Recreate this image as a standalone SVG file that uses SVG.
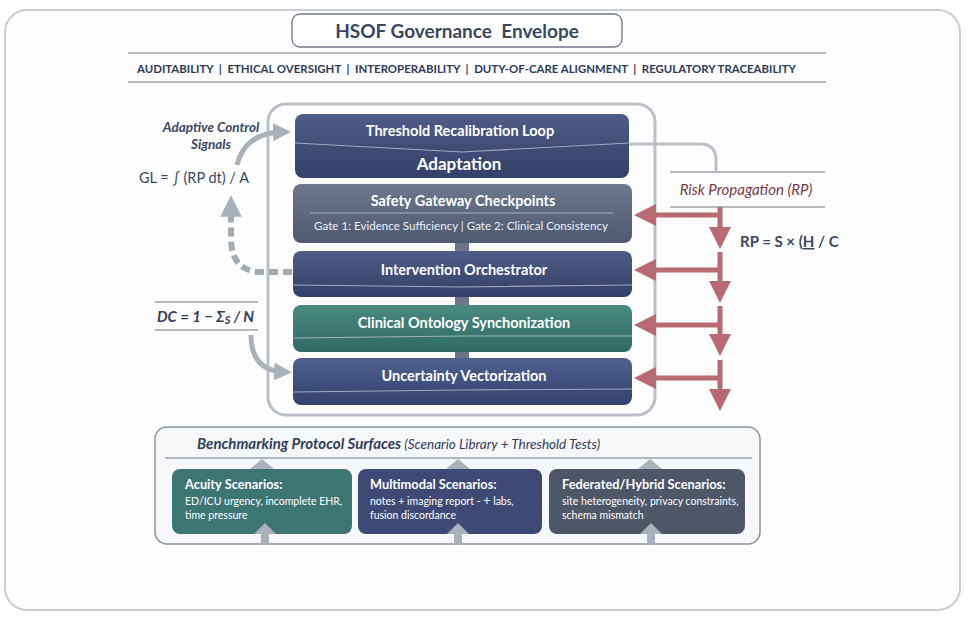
<svg xmlns="http://www.w3.org/2000/svg" width="975" height="619" viewBox="0 0 975 619">
<defs>
<style>
text{font-family:Lato,"Open Sans","Liberation Sans",sans-serif}
.w{fill:#fff;font-weight:bold;text-anchor:middle}
.div{stroke:#b8c0d0;stroke-width:1.2;fill:none;opacity:.8}
.red{stroke:#b86a72;stroke-width:5;fill:none}
.gry{stroke:#a9b1bb;stroke-width:5;fill:none}
.hl{stroke:#9aa2ad;stroke-width:1.3}
.card{font-size:10.5px;fill:#fff}
.ct{font-size:12.8px;font-weight:bold;fill:#fff}
</style>
<linearGradient id="gN" x1="0" y1="0" x2="0" y2="1"><stop offset="0" stop-color="#4f5c86"/><stop offset="1" stop-color="#33406a"/></linearGradient>
<linearGradient id="gG" x1="0" y1="0" x2="0" y2="1"><stop offset="0" stop-color="#6d788e"/><stop offset="1" stop-color="#4e5972"/></linearGradient>
<linearGradient id="gT" x1="0" y1="0" x2="0" y2="1"><stop offset="0" stop-color="#4a8a7f"/><stop offset="1" stop-color="#2f6a62"/></linearGradient>
<linearGradient id="gU" x1="0" y1="0" x2="0" y2="1"><stop offset="0" stop-color="#4f6190"/><stop offset="1" stop-color="#33426c"/></linearGradient>
<marker id="ra" viewBox="0 0 10 10" refX="5" refY="5" markerWidth="4.4" markerHeight="4.4" orient="auto"><path d="M0,0 L10,5 L0,10 z" fill="#b86a72"/></marker>
<marker id="ga" viewBox="0 0 10 10" refX="5" refY="5" markerWidth="3.6" markerHeight="3.6" orient="auto"><path d="M0,0 L10,5 L0,10 z" fill="#a9b1bb"/></marker>
</defs>
<rect width="975" height="619" fill="#fff"/>
<rect x="5" y="10" width="955" height="600" rx="22" fill="#fdfdfe" stroke="#c9ced5" stroke-width="2"/>

<g id="title">
<rect x="292" y="14" width="330" height="33" rx="8" fill="#fff" stroke="#6d7689" stroke-width="1.3"/>
<text x="457" y="38" text-anchor="middle" font-size="19" font-weight="bold" fill="#3a4660" xml:space="preserve">HSOF Governance  Envelope</text>
</g>
<g id="principles">
<line x1="128" y1="53" x2="826" y2="53" class="hl"/>
<line x1="128" y1="82" x2="826" y2="82" class="hl"/>
<text x="137" y="73" font-size="11.5" font-weight="bold" fill="#2f3b55" textLength="659" lengthAdjust="spacingAndGlyphs" xml:space="preserve">AUDITABILITY  |  ETHICAL OVERSIGHT  |  INTEROPERABILITY  |  DUTY-OF-CARE ALIGNMENT  |  REGULATORY TRACEABILITY</text>
</g>

<g id="stack-frame">
<rect x="268" y="104" width="387" height="311" rx="18" fill="none" stroke="#b9c0c8" stroke-width="3"/>
</g>

<g id="benchmark">
<rect x="155" y="427" width="605" height="117" rx="12" fill="#f6f7f9" stroke="#8a93a0" stroke-width="1.5"/>
<line x1="165" y1="458" x2="752" y2="458" class="hl"/>
<text x="197" y="449" font-size="13.5" fill="#323d58" font-style="italic"><tspan font-weight="bold" font-size="15">Benchmarking Protocol Surfaces</tspan> (Scenario Library + Threshold Tests)</text>
</g>

<g id="n-recalibration">
<rect x="295" y="114" width="334" height="64" rx="8" fill="url(#gN)"/>
<path class="div" d="M295,143 L462,152 L629,143"/>
<text x="460" y="136" class="w" font-size="14.5">Threshold Recalibration Loop</text>
<text x="459" y="170" class="w" font-size="17">Adaptation</text>
</g>
<g id="n-safety">
<rect x="293" y="184" width="339" height="59" rx="8" fill="url(#gG)"/>
<line x1="310" y1="213" x2="613" y2="213" class="div"/>
<text x="463" y="206" class="w" font-size="14.5">Safety Gateway Checkpoints</text>
<text x="461" y="230" text-anchor="middle" font-size="11.6" fill="#eef0f4">Gate 1: Evidence Sufficiency | Gate 2: Clinical Consistency</text>
</g>
<g id="n-intervention">
<rect x="293" y="251" width="339" height="46" rx="8" fill="url(#gN)"/>
<path class="div" d="M293,285 L462,287 L632,285"/>
<text x="464" y="275" class="w" font-size="14.5">Intervention Orchestrator</text>
</g>
<g id="n-ontology">
<rect x="293" y="305" width="339" height="47" rx="8" fill="url(#gT)"/>
<path class="div" d="M293,338 L462,336 L632,336"/>
<text x="464" y="328" class="w" font-size="14.5" fill="#eef5f2">Clinical Ontology Synchonization</text>
</g>
<g id="n-uncertainty">
<rect x="293" y="358" width="339" height="47" rx="8" fill="url(#gU)"/>
<path class="div" d="M293,392 L462,390 L632,389"/>
<text x="464" y="381" class="w" font-size="14.5">Uncertainty Vectorization</text>
</g>

<g id="risk-label">
<line x1="670" y1="172" x2="825" y2="172" class="hl"/>
<line x1="670" y1="207" x2="825" y2="207" class="hl"/>
<text x="746" y="195" text-anchor="middle" font-size="15" font-style="italic" fill="#7a3a44">Risk Propagation (RP)</text>
<text x="740" y="247" font-size="15" font-weight="bold" fill="#3a4660">RP = S × (<tspan text-decoration="underline">H</tspan> / C</text>
</g>

<g id="adaptive-label">
<text x="211" y="132" text-anchor="middle" font-size="13.5" font-style="italic" font-weight="bold" fill="#3a4660">Adaptive Control</text>
<text x="211" y="149" text-anchor="middle" font-size="13.5" font-style="italic" font-weight="bold" fill="#3a4660">Signals</text>
<text x="139" y="183" font-size="14.5" fill="#3a4660">GL = ∫ (RP dt) / A</text>
</g>

<g id="dc-label">
<line x1="155" y1="302" x2="258" y2="302" class="hl"/>
<line x1="155" y1="330" x2="258" y2="330" class="hl"/>
<text x="157" y="322" font-size="15" font-style="italic" font-weight="bold" fill="#323d58">DC = 1 − Σ<tspan font-size="11" dy="2">S</tspan><tspan dy="-2"> / N</tspan></text>
</g>

<g id="c-acuity">
<rect x="172" y="469" width="180" height="65" rx="8" fill="#3d7573"/>
<text x="185" y="489" class="ct">Acuity Scenarios:</text>
<text x="185" y="505" class="card">ED/ICU urgency, incomplete EHR,</text>
<text x="185" y="519" class="card">time pressure</text>
</g>
<g id="c-multimodal">
<rect x="358" y="469" width="184" height="65" rx="8" fill="#3e4a76"/>
<text x="370" y="489" class="ct">Multimodal Scenarios:</text>
<text x="370" y="505" class="card">notes + imaging report - <tspan font-size="12.5">+</tspan> labs,</text>
<text x="370" y="519" class="card">fusion discordance</text>
</g>
<g id="c-federated">
<rect x="549" y="469" width="196" height="65" rx="8" fill="#4e5668"/>
<text x="562" y="489" class="ct">Federated/Hybrid Scenarios:</text>
<text x="562" y="505" class="card">site heterogeneity, privacy constraints,</text>
<text x="562" y="519" class="card">schema mismatch</text>
</g>

<g id="connectors">
<rect x="455" y="243" width="14" height="8" fill="#6b7488"/>
<rect x="455" y="297" width="14" height="8" fill="#6b7488"/>
<rect x="455" y="352" width="14" height="6" fill="#6b7488"/>
<path d="M629,144 H700 Q716,144 716,160 V172" stroke="#b9c0c8" stroke-width="3" fill="none"/>
<path class="red" d="M720,207 V238" marker-end="url(#ra)"/>
<path class="red" d="M720,252 V292" marker-end="url(#ra)"/>
<path class="red" d="M720,306 V345" marker-end="url(#ra)"/>
<path class="red" d="M720,360 V400" marker-end="url(#ra)"/>
<path class="red" d="M720,215 H645" marker-end="url(#ra)"/>
<path class="red" d="M720,270 H645" marker-end="url(#ra)"/>
<path class="red" d="M720,325 H645" marker-end="url(#ra)"/>
<path class="red" d="M720,378 H645" marker-end="url(#ra)"/>
<path class="gry" d="M237,165 Q245,133 282,132" stroke-width="6" marker-end="url(#ga)"/>
<path d="M292,272 H262 Q232,272 231,240 V206" stroke="#a3abb5" stroke-width="6" fill="none" stroke-dasharray="9,5" marker-end="url(#ga)"/>
<path class="gry" d="M251,335 Q251,370 283,372" marker-end="url(#ga)"/>
<g fill="#a9b1bb">
<path d="M250,469 L262,459 L274,469 z"/>
<path d="M446,469 L458,459 L470,469 z"/>
<path d="M638,469 L650,459 L662,469 z"/>
<path d="M254,534 L265,523 L276,534 z"/>
<path d="M447,534 L458,523 L469,534 z"/>
<path d="M640,534 L651,523 L662,534 z"/>
<rect x="261" y="534" width="8" height="11"/>
<rect x="454" y="534" width="8" height="11"/>
<rect x="647" y="534" width="8" height="11"/>
</g>
</g>
</svg>
